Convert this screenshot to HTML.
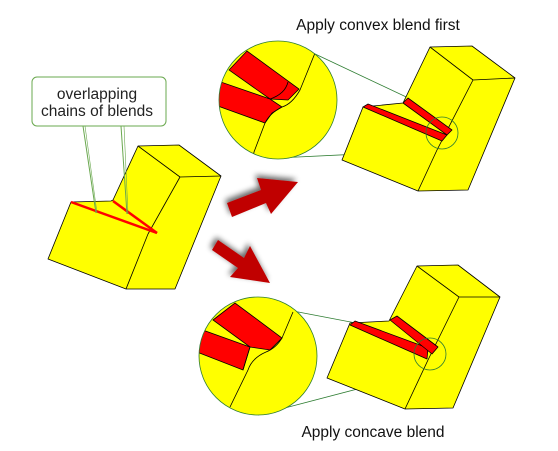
<!DOCTYPE html>
<html><head><meta charset="utf-8"><style>
html,body{margin:0;padding:0;background:#fff;}
svg{display:block;font-family:"Liberation Sans",sans-serif;}
</style></head><body>
<svg width="558" height="451" viewBox="0 0 558 451">
<defs>
<filter id="sh" x="-30%" y="-30%" width="160%" height="160%"><feGaussianBlur in="SourceAlpha" stdDeviation="3"/><feOffset dx="-2" dy="-3"/><feComponentTransfer><feFuncA type="linear" slope="0.6"/></feComponentTransfer><feMerge><feMergeNode/><feMergeNode in="SourceGraphic"/></feMerge></filter>
<clipPath id="c1"><circle cx="278" cy="100" r="59"/></clipPath>
<clipPath id="c2"><circle cx="258" cy="356" r="59"/></clipPath>
</defs>

<g stroke="#000" stroke-width="0.8" fill="#ffff00" stroke-linejoin="round">
<polygon points="138,146 179,145 221,176 175,289 126,289 48,259 71,202 111,201 113,200"/>
<line x1="138" y1="146" x2="180" y2="177"/>
<line x1="180" y1="177" x2="221" y2="176"/>
<line x1="180" y1="177" x2="148" y2="234"/>
<line x1="148" y1="234" x2="126" y2="289"/>
</g>
<g stroke="#ff0000" stroke-width="2.5">
<line x1="71" y1="202" x2="157" y2="233"/>
<line x1="113" y1="201" x2="157" y2="233"/>
</g>
<g>
<line x1="83" y1="126" x2="96" y2="213" stroke="#6aa84f" stroke-width="1"/>
<line x1="85" y1="126" x2="97" y2="213" stroke="#6aa84f" stroke-width="0.6"/>
<line x1="121" y1="126" x2="127" y2="214" stroke="#6aa84f" stroke-width="1"/>
<line x1="124" y1="126" x2="128" y2="214" stroke="#6aa84f" stroke-width="0.6"/>
<rect x="32" y="77" width="134" height="49" rx="5" fill="#fff" stroke="#6aa84f" stroke-width="1"/>
<text x="97" y="99" text-anchor="middle" font-size="15.5" fill="#222">overlapping</text>
<text x="97" y="116" text-anchor="middle" font-size="15.5" fill="#222">chains of blends</text>
</g>

<g filter="url(#sh)" fill="#c00000">
<polygon points="227,203 261,190 257,178 298,182 271,214 266,203 232,217"/>
</g>
<g filter="url(#sh)" fill="#c00000">
<polygon points="218,240 244,258 250,246 270,283 230,277 238,268 212,250"/>
</g>

<text x="378" y="30" text-anchor="middle" font-size="15.5" fill="#111">Apply convex blend first</text>
<g stroke="#2e7d32" stroke-width="0.8">
<line x1="313" y1="53" x2="455" y2="120"/>
<line x1="277" y1="158" x2="443" y2="150"/>
</g>
<g stroke="#000" stroke-width="0.8" fill="#ffff00" stroke-linejoin="round">
<polygon points="430,47 472,46 515,78 468,190 418,191 342,160 363,107 403,103"/>
<line x1="430" y1="47" x2="473" y2="80"/>
<line x1="473" y1="80" x2="515" y2="78"/>
<polyline points="473,80 437,150 418,191" fill="none"/>
<polygon points="363,107 368,104 447,135 442,141" fill="#ff0000"/>
<polygon points="403,103 408,98 452,130 447,135" fill="#ff0000"/>
</g>
<circle cx="442" cy="133" r="16" fill="none" stroke="#2e7d32" stroke-width="0.8"/>
<g>
<circle cx="278" cy="100" r="59" fill="#ffff00"/>
<g clip-path="url(#c1)" stroke="#000" stroke-width="0.8">
<polygon points="229,70 247,51 299,89 288,100 270,99" fill="#ff0000"/>
<polygon points="215,80 270,99 282,107 272,113 265,123 215,105" fill="#ff0000"/>
<path d="M315,53 L300,90 Q292,104 282,107 Q270,113 265,123 L254,152 L252,165" fill="none"/>
<path d="M270,99 Q285,94 288,82" fill="none"/>
</g>
<circle cx="278" cy="100" r="59" fill="none" stroke="#2e7d32" stroke-width="0.8"/>
</g>

<g stroke="#2e7d32" stroke-width="0.8">
<line x1="293" y1="311" x2="445" y2="340"/>
<line x1="258" y1="415" x2="430" y2="370"/>
</g>
<g stroke="#000" stroke-width="0.8" fill="#ffff00" stroke-linejoin="round">
<polygon points="417,266 458,265 500,297 453,408 405,409 327,378 350,323 389,321"/>
<line x1="417" y1="266" x2="459" y2="297"/>
<line x1="459" y1="297" x2="500" y2="297"/>
<polyline points="459,297 428,360 405,409" fill="none"/>
<polygon points="350,325 355,321 428,348 427,359" fill="#ff0000"/>
<polygon points="390,320 397,316 438,347 432,354" fill="#ff0000"/>
</g>
<circle cx="430" cy="354" r="16" fill="none" stroke="#2e7d32" stroke-width="0.8"/>
<g>
<circle cx="258" cy="356" r="59" fill="#ffff00"/>
<g clip-path="url(#c2)" stroke="#000" stroke-width="0.8">
<polygon points="213,320 235,303 282,338 270,350 250,347" fill="#ff0000"/>
<polygon points="197,328 250,347 243,370 197,352" fill="#ff0000"/>
<path d="M293,312 L282,338 Q276,348 266,352 Q252,358 248,370 L230,407" fill="none"/>
<line x1="250" y1="347" x2="243" y2="370"/>
</g>
<circle cx="258" cy="356" r="59" fill="none" stroke="#2e7d32" stroke-width="0.8"/>
</g>
<text x="373" y="437" text-anchor="middle" font-size="15.5" fill="#111">Apply concave blend</text>
</svg>
</body></html>
